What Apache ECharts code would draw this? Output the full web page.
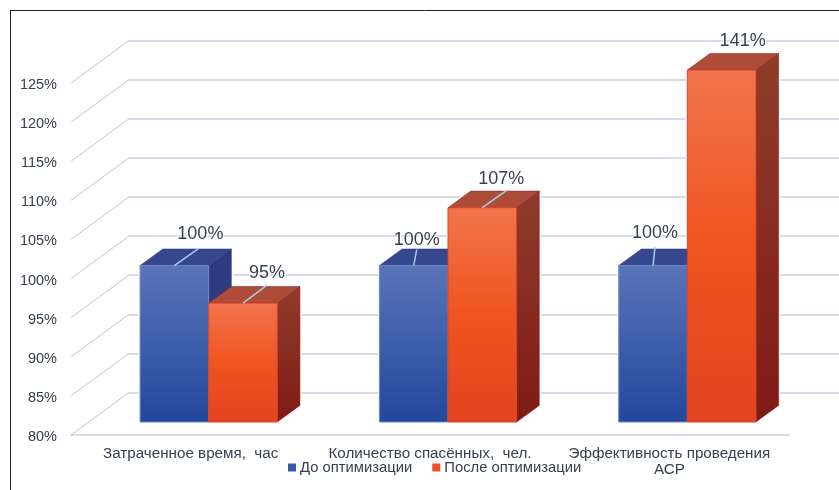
<!DOCTYPE html>
<html><head><meta charset="utf-8">
<style>html,body{margin:0;padding:0;background:#fff}#c{width:839px;height:490px}</style>
<script src="https://cdn.jsdelivr.net/npm/echarts@6/dist/echarts.min.js"></script>
</head><body><div id="c"></div>
<script>
const categories = ['Затраченное время,  час', 'Количество спасённых,  чел.', 'Эффективность проведения\nАСР'];
const beforeValues = [100, 100, 100];
const afterValues = [95.2, 107.4, 141];
const yTicks = [80, 85, 90, 95, 100, 105, 110, 115, 120, 125];
const seriesNames = ['До оптимизации', 'После оптимизации'];

// layout (pixels)
const axisMin = 80, axisMax = 125;
const wall = {dx: 58, dy: 42.5};
const barShift = {dx: 18, dy: 13};
const barDepth = {dx: 22.7, dy: 16.6};
const barW = 68.6;
const labelLayout = [
  [{lx: 26, ly: -32, ex: 24, ey: -17}, {lx: 3, ly: -26, ex: 3, ey: -16}, {lx: 2, ly: -33, ex: 2, ey: -19}],
  [{lx: 24, ly: -30, ex: 24, ey: -18}, {lx: 19, ly: -29, ex: 24, ey: -17}, {lx: 21, ly: -29}]
];
const palette = [
  {legend: '#3a5aa8', top: '#36478f', edge: '#6d88c6',
   front: ['#5a74b8', '#23479c'], side: ['#2f3b80', '#2a3a80']},
  {legend: '#ee4f24', top: '#ad4c38', edge: '#d9442a',
   front: ['#f1744e', '#f0541f', '#e34320'], side: ['#8f3c2b', '#801a16']}
];
const textColor = '#36404f';
const lineColor = '#c9d1e4';
const lin = (cols) => ({type: 'linear', x: 0, y: 0, x2: 0, y2: 1,
  colorStops: cols.map((c, i) => ({offset: i / (cols.length - 1), color: c}))});

function barGeom(api, s) {
  const idx = api.value(0), val = api.value(1);
  const clamped = Math.min(val, axisMax);
  const top = api.coord([idx, clamped]), bot = api.coord([idx, axisMin]);
  const l = top[0] + barShift.dx + (s === 0 ? -barW : 0);
  return {idx, val, l, r: l + barW, t: top[1] - barShift.dy, b: bot[1] - barShift.dy};
}
function haloItem(s) {
  return (p, api) => {
    const g = barGeom(api, s), d = barDepth;
    return {type: 'polygon', shape: {points: [[g.l, g.b], [g.l, g.t], [g.l + d.dx, g.t - d.dy], [g.r + d.dx, g.t - d.dy], [g.r + d.dx, g.b - d.dy], [g.r, g.b]]},
      style: {fill: '#fff', stroke: '#fff', lineWidth: 3}};
  };
}
function barItem(s) {
  return (p, api) => {
    const g = barGeom(api, s), d = barDepth, c = palette[s];
    return {type: 'group', children: [
      {type: 'polygon', shape: {points: [[g.r, g.t], [g.r + d.dx, g.t - d.dy], [g.r + d.dx, g.b - d.dy], [g.r, g.b]]},
        style: {fill: lin(c.side), stroke: c.side[1], lineWidth: 0.5}},
      {type: 'polygon', shape: {points: [[g.l, g.t], [g.l + d.dx, g.t - d.dy], [g.r + d.dx, g.t - d.dy], [g.r, g.t]]},
        style: {fill: c.top, stroke: c.side[1], lineWidth: 0.5}},
      {type: 'rect', shape: {x: g.l, y: g.t, width: g.r - g.l, height: g.b - g.t},
        style: {fill: lin(c.front), stroke: c.edge, lineWidth: 1}}
    ]};
  };
}
function labelItem(s) {
  return (p, api) => {
    const g = barGeom(api, s), n = labelLayout[s][g.idx], cx = (g.l + g.r) / 2, kids = [];
    if (n.ex !== undefined) kids.push({type: 'line', shape: {x1: cx, y1: g.t, x2: cx + n.ex, y2: g.t + n.ey},
      style: {stroke: '#a5cfe8', lineWidth: 1.5}});
    kids.push({type: 'text', style: {text: Math.round(g.val) + '%', x: cx + n.lx, y: g.t + n.ly, align: 'center', verticalAlign: 'middle',
      fill: textColor, stroke: '#fff', lineWidth: 2, font: '18px "Liberation Sans", Arial, sans-serif'}});
    return {type: 'group', children: kids};
  };
}
const toData = (vals) => vals.map((v, i) => [i, v]);
const custom = (name, vals, item, z, extra) => Object.assign({type: 'custom', name, xAxisIndex: 0, yAxisIndex: 0, clip: false, silent: true,
  animation: false, z, data: toData(vals), renderItem: item, encode: {x: 0, y: 1}}, extra || {});

const font = '"Liberation Sans", Arial, sans-serif';
const chart = echarts.init(document.getElementById('c'), null, {renderer: 'canvas'});
chart.setOption({
  animation: false,
  backgroundColor: '#fff',
  grid: [
    {left: 71, top: 83, width: 718, height: 352},
    {left: 129, top: 40.5, right: 0, height: 352}
  ],
  legend: {
    data: seriesNames, left: 283, top: 455, itemWidth: 8, itemHeight: 8, itemGap: 20, icon: 'rect',
    selectedMode: false, textStyle: {fontFamily: font, fontSize: 14.8, color: textColor, padding: [0, 0, 0, -1]}
  },
  xAxis: [
    {type: 'category', data: categories, gridIndex: 0,
      axisLine: {show: true, lineStyle: {color: lineColor, width: 1.5}}, axisTick: {show: false},
      axisLabel: {fontFamily: font, fontSize: 15.2, color: textColor, margin: 11, lineHeight: 16, interval: 0, hideOverlap: false, overflow: 'none', width: 300}},
    {type: 'category', data: categories, gridIndex: 1, show: false}
  ],
  yAxis: [
    {type: 'value', min: axisMin, max: axisMax, interval: 5, gridIndex: 0,
      axisLine: {show: false}, axisTick: {show: false}, splitLine: {show: false},
      axisLabel: {formatter: '{t|{value}%}', margin: 14, rich: {t: {padding: [4, 0, 0, 0], fontFamily: font, fontSize: 14.5, color: textColor}}}},
    {type: 'value', min: axisMin, max: axisMax, interval: 5, gridIndex: 1,
      axisLine: {show: false}, axisTick: {show: false}, axisLabel: {show: false},
      splitLine: {show: true, lineStyle: {color: lineColor, width: 1.5}}}
  ],
  series: [
    {type: 'custom', name: 'walls', silent: true, animation: false, clip: false, z: 2, xAxisIndex: 0, yAxisIndex: 0,
      data: yTicks.map(v => [0, v]), encode: {x: 0, y: 1},
      renderItem: (p, api) => {
        const y = api.coord([0, api.value(1)])[1], x = p.coordSys.x;
        return {type: 'line', shape: {x1: x, y1: y, x2: x + wall.dx, y2: y - wall.dy}, style: {stroke: '#bcc6dc', lineWidth: 1}};
      }},
    custom('h0', beforeValues, haloItem(0), 3),
    custom('h1', afterValues, haloItem(1), 3),
    custom(seriesNames[0], beforeValues, barItem(0), 4, {itemStyle: {color: palette[0].legend}}),
    custom(seriesNames[1], afterValues, barItem(1), 5, {itemStyle: {color: palette[1].legend}}),
    custom('l0', beforeValues, labelItem(0), 6),
    custom('l1', afterValues, labelItem(1), 6)
  ],
  graphic: [
    {type: 'line', shape: {x1: 10, y1: 10.5, x2: 839, y2: 10.5}, style: {stroke: '#222', lineWidth: 1}, z: 10},
    {type: 'line', shape: {x1: 10.5, y1: 10, x2: 10.5, y2: 490}, style: {stroke: '#222', lineWidth: 1}, z: 10}
  ]
});
</script></body></html>
